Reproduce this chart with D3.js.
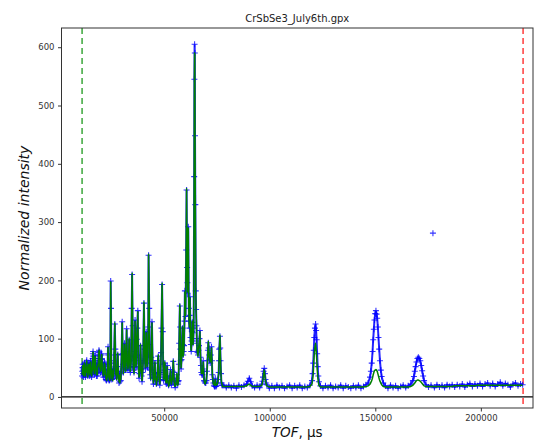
<!DOCTYPE html>
<html>
<head>
<meta charset="utf-8">
<script src="https://cdn.jsdelivr.net/npm/d3@7"></script>
<style>
body { margin: 0; background: #fff; }
svg text { font-family: "DejaVu Sans", sans-serif; }
</style>
</head>
<body>
<div id="chart"></div>
<script>
// One line of tof matches the same line of obs and calc.
var tof = [
	11100,11200,11300,11400,11500,11600,11700,11800,11900,12000,12100,12200,12300,12400,12500,12600,12700,12800,12900,13000,
	13100,13200,13300,13400,13500,13600,13700,13800,13900,14000,14100,14200,14300,14400,14500,14600,14700,14800,14900,15000,
	15100,15200,15300,15400,15500,15600,15700,15800,15900,16000,16100,16200,16300,16400,16500,16600,16700,16800,16900,17000,
	17100,17200,17300,17400,17500,17600,17700,17800,17900,18000,18100,18200,18300,18400,18500,18600,18700,18800,18900,19000,
	19100,19200,19300,19400,19500,19600,19700,19800,19900,20000,20100,20200,20300,20400,20500,20600,20700,20800,20900,21000,
	21100,21200,21300,21400,21500,21600,21700,21800,21900,22000,22100,22200,22300,22400,22500,22600,22700,22800,22900,23000,
	23100,23200,23300,23400,23500,23600,23700,23800,23900,24000,
	24300,24500,24650,24800,24950,25050,25200,25400,25600,25800,26000,26150,26300,26600,26850,27100,27300,27500,27650,27800,
	28000,28250,28400,28600,28800,29000,29200,29400,29600,29800,30100,30350,30550,30700,30850,31000,31200,31450,31650,31800,
	32000,32200,32450,32650,32800,32950,33100,33400,33650,33800,33950,
	34100,34300,34600,34800,35050,35200,35350,35500,35700,35850,36000,36200,36450,36650,36800,37000,37250,37500,37750,37900,
	38100,38300,38500,38650,38800,39100,39300,39500,39750,40000,40400,40700,40900,41100,41300,41500,41850,42050,42250,42450,
	42600,42900,43050,43250,43400,43600,43750,43900,44200,44500,44700,44900,45100,45300,45450,45600,45750,45900,46100,46300,
	46500,46700,46850,47000,47200,47500,47700,47900,
	48100,48300,48500,48700,49000,49300,49500,49700,49850,50000,50150,50300,50600,50800,51000,51200,51400,51550,51700,51900,
	52100,52350,52600,52800,53000,53200,53400,53650,53900,54100,54300,54500,54700,54950,55200,55400,55600,55800,56000,56200,
	56400,56600,56800,56950,57100,57400,57550,57700,57850,58000,58200,58400,58700,58850,59000,59200,59400,59600,59800,60100,
	60400,60600,60850,61000,61150,61400,61650,61800,61950,62050,62200,62450,62650,62800,62950,63100,63350,63500,63650,63800,
	63950,64200,64300,64400,64500,64600,64750,64950,65100,65300,65450,65600,65800,66000,66250,66500,66700,66900,67200,67400,
	67600,67850,68100,68300,68500,68700,68900,69150,69400,69700,70000,70250,70500,70700,70900,71100,71300,71550,71800,72100,
	72400,72600,72800,73050,73300,73550,73800,74000,74200,74400,74600,74900,75200,75500,75800,75950,76100,76400,76550,76700,
	76900,77100,77350,77600,
	78200,79400,80600,81800,83000,84200,85400,86600,87800,89000,89600,90300,91000,91700,92800,94000,95200,
	96200,96500,96800,97100,97400,97700,98000,98300,98600,
	99800,101000,102200,103400,104600,105800,107000,108200,109400,110600,111800,113000,114200,115400,116600,117800,119000,
	120000,120300,120600,120850,121100,121400,121700,121950,122200,122450,122700,123000,123300,
	124000,125200,126400,127600,128800,130000,131200,132400,133600,134800,136000,137200,138400,139600,140800,142000,143200,
	144400,145600,146600,
	147500,147900,148300,148700,149000,149300,149600,149950,150300,150600,150900,151200,151500,151850,152200,152600,153000,
	153800,154800,156000,157200,158400,159600,160800,162000,163200,164400,165600,166800,
	167800,168300,168700,169100,169500,169950,170400,170850,171300,171750,172200,172650,173100,
	174000,175200,176400,177300,178000,179200,180400,181600,182800,184000,185200,186400,187600,188800,190000,191200,192400,
	193600,194800,196000,197200,198400,199600,200800,202000,203200,204400,205600,206800,208000,209200,210400,211600,212800,
	214000,215200,216400,217600,218800,219800
];

var obs = [
	36,44,50,56,50,40,46,34,40,52,56,48,58,44,52,38,34,44,48,40,
	52,60,63,54,46,50,40,36,44,50,42,54,58,48,52,40,36,46,52,58,
	62,50,44,38,46,34,40,48,42,56,66,74,78,70,60,52,44,50,38,46,
	56,66,72,66,58,48,54,42,36,44,40,48,36,44,52,58,50,62,72,76,
	80,78,70,62,56,46,52,42,50,58,52,64,72,74,66,58,50,42,48,38,
	44,34,40,48,54,56,60,52,58,46,40,48,36,30,36,28,34,30,38,32,
	42,56,74,86,72,56,46,36,30,28,
	30,62,199,152,58,40,30,44,31,48,34,46,72,125,82,36,48,32,40,52,
	73,44,36,24,38,26,40,28,44,72,129,74,56,42,48,58,92,50,62,46,
	78,117,72,56,46,54,64,98,62,50,42,
	52,62,152,210,122,70,46,52,42,56,78,132,68,50,62,99,118,148,72,48,
	32,40,52,58,88,48,36,26,42,62,161,82,62,48,70,112,58,50,72,120,
	243,152,90,48,38,32,46,68,129,62,38,22,34,32,42,58,40,28,34,22,
	30,26,40,62,70,42,30,20,
	30,42,76,118,193,112,56,28,34,38,46,58,32,28,22,34,54,36,24,22,
	20,24,28,36,47,32,20,26,32,44,61,42,28,22,16,22,26,32,38,28,
	22,26,28,56,92,156,120,82,62,48,64,82,118,90,72,78,88,130,182,138,
	252,355,222,196,178,292,152,130,118,140,172,102,90,78,96,112,128,110,92,100,
	118,378,545,605,590,448,330,182,150,122,96,78,76,72,80,88,100,114,68,54,
	42,38,38,48,62,44,28,26,24,24,28,44,62,80,93,84,72,64,58,72,
	86,62,38,30,24,20,18,24,32,24,18,20,24,30,42,62,82,104,84,62,
	40,24,20,20,
	20,16,20,16,19,15,20,17,20,22,27,32,26,19,16,20,16,
	22,27,34,44,49,40,30,24,21,
	15,19,15,20,16,19,15,18,20,15,19,16,20,15,18,16,20,
	28,40,58,80,102,118,125,114,98,74,52,36,26,
	19,15,19,16,20,15,18,16,20,15,19,17,15,19,16,20,15,
	18,21,24,
	34,44,58,78,98,116,132,143,148,142,135,120,102,82,62,46,35,
	24,19,15,20,16,19,15,18,20,16,19,22,
	28,35,44,52,60,66,68,66,62,54,45,36,28,
	21,17,20,281,16,21,17,20,16,21,18,21,17,21,18,22,17,
	21,23,18,22,19,23,18,22,24,19,23,18,22,25,19,23,21,
	17,22,24,19,22,21
];

var calc = [
	38,42,48,54,52,42,44,36,38,50,58,46,56,46,50,40,36,42,50,42,
	50,58,62,56,48,48,42,34,42,48,44,52,56,50,50,42,38,44,50,56,
	60,52,42,40,44,36,38,46,44,54,64,72,77,72,62,50,46,48,40,44,
	54,64,70,68,56,50,52,44,38,42,38,46,38,42,50,56,52,60,70,74,
	78,80,68,64,54,48,50,44,48,56,54,62,70,73,64,60,48,44,46,40,
	42,36,38,46,52,55,58,54,56,48,38,46,38,32,34,30,32,28,36,34,
	40,54,72,85,74,54,48,34,32,30,
	28,60,197,150,60,42,32,42,28,46,36,48,70,127,80,38,46,30,42,50,
	75,46,34,26,36,24,38,30,46,70,127,76,54,40,50,60,90,52,60,44,
	80,115,70,58,48,52,62,100,60,52,44,
	50,60,150,212,120,68,48,54,40,58,80,130,70,52,60,101,120,146,70,46,
	34,42,50,56,90,46,38,28,40,60,163,80,60,50,72,110,60,52,70,118,
	245,150,92,50,40,30,48,70,127,60,36,24,32,30,44,60,42,30,32,20,
	32,28,42,60,72,40,28,22,
	32,40,74,120,195,110,58,30,32,36,48,60,30,26,24,36,52,38,26,24,
	18,22,30,38,45,30,22,28,30,42,63,44,26,20,18,20,24,30,40,30,
	20,24,30,58,90,158,118,80,64,50,62,80,120,92,70,76,90,128,180,140,
	250,357,220,198,180,290,150,132,120,142,170,100,88,80,94,110,130,108,90,102,
	120,380,549,590,585,445,329,180,148,120,98,80,74,70,82,90,98,112,70,56,
	40,40,40,46,60,42,30,24,22,26,30,42,60,78,95,82,70,66,60,70,
	84,60,40,28,22,22,20,26,30,22,20,22,22,28,40,60,80,106,82,60,
	38,26,22,18,
	18,18,18,18,18,18,18,18,18,19,21,22,20,18,18,18,18,
	20,24,30,40,46,37,28,22,19,
	17,17,17,17,17,17,17,17,17,17,17,17,17,17,17,17,18,
	22,30,40,58,75,86,92,82,68,50,36,26,20,
	17,17,17,17,17,17,17,17,17,17,17,17,17,17,17,17,17,
	17,18,19,
	22,25,28,33,38,42,45,46,47,46,44,40,36,31,27,24,21,
	18,17,17,17,17,17,17,17,17,17,17,18,
	20,22,24,26,28,29,29,28,27,25,23,21,19,
	18,18,18,18,18,18,18,18,18,18,18,18,19,19,19,19,19,
	19,19,19,19,20,20,20,20,20,20,20,20,20,20,20,20,20,
	20,20,20,20,20,20
];

var xTicks = [50000, 100000, 150000, 200000];
var yTicks = [0, 100, 200, 300, 400, 500, 600];
var limits = [11100, 220000];

var width = 534, height = 440;
var plot = {left: 61.5, right: 533, top: 28, bottom: 408};

var svg = d3.select("#chart").append("svg")
	.attr("width", width)
	.attr("height", height);

var x = d3.scaleLinear().domain([1350, 224700]).range([plot.left, plot.right]);
var y = d3.scaleLinear().domain([-19, 633]).range([plot.bottom, plot.top]);

svg.append("clipPath").attr("id", "clip")
	.append("rect")
	.attr("x", plot.left).attr("y", plot.top)
	.attr("width", plot.right - plot.left).attr("height", plot.bottom - plot.top);

var g = svg.append("g").attr("clip-path", "url(#clip)");

var pts = tof.map(function(t, i) { return {t: t, o: obs[i], c: calc[i]}; });
pts.sort(function(a, b) { return a.t - b.t; });

// excluded region markers
g.append("line")
	.attr("x1", x(limits[0])).attr("x2", x(limits[0]))
	.attr("y1", plot.top).attr("y2", plot.bottom)
	.attr("stroke", "#3aa63a").attr("stroke-width", 1.5)
	.attr("stroke-dasharray", "6,4");
g.append("line")
	.attr("x1", x(limits[1])).attr("x2", x(limits[1]))
	.attr("y1", plot.top).attr("y2", plot.bottom)
	.attr("stroke", "#ff3b3b").attr("stroke-width", 1.5)
	.attr("stroke-dasharray", "6,4");

// zero line
g.append("line")
	.attr("x1", plot.left).attr("x2", plot.right)
	.attr("y1", y(0)).attr("y2", y(0))
	.attr("stroke", "#000").attr("stroke-width", 1.3);

// observed: trace plus "+" markers (the lone spike is left as a marker only)
var obsPts = pts.filter(function(d) { return !(d.t > 100000 && d.o > 250); });
g.append("path")
	.datum(obsPts)
	.attr("fill", "none")
	.attr("stroke", "#0000ff")
	.attr("stroke-opacity", 0.85)
	.attr("stroke-width", 2)
	.attr("d", d3.line().x(function(d) { return x(d.t); }).y(function(d) { return y(d.o); }));

g.selectAll(".obs")
	.data(pts)
	.enter().append("path")
	.attr("class", "obs")
	.attr("transform", function(d) { return "translate(" + x(d.t) + "," + y(d.o) + ")"; })
	.attr("d", "M-3,0H3M0,-3V3")
	.attr("stroke", "#0000ff")
	.attr("stroke-opacity", 0.8)
	.attr("stroke-width", 1.1);

// calculated
g.append("path")
	.datum(pts)
	.attr("fill", "none")
	.attr("stroke", "#008000")
	.attr("stroke-width", 1.5)
	.attr("stroke-linejoin", "round")
	.attr("d", d3.line().x(function(d) { return x(d.t); }).y(function(d) { return y(d.c); }));

// frame
svg.append("rect")
	.attr("x", plot.left).attr("y", plot.top)
	.attr("width", plot.right - plot.left).attr("height", plot.bottom - plot.top)
	.attr("fill", "none").attr("stroke", "#333").attr("stroke-width", 1);

var xAxis = svg.append("g")
	.attr("transform", "translate(0," + plot.bottom + ")")
	.call(d3.axisBottom(x).tickValues(xTicks).tickSize(3.5).tickPadding(3.5).tickFormat(d3.format("d")));
var yAxis = svg.append("g")
	.attr("transform", "translate(" + plot.left + ",0)")
	.call(d3.axisLeft(y).tickValues(yTicks).tickSize(3.5).tickPadding(3.5));

[xAxis, yAxis].forEach(function(a) {
	a.select(".domain").remove();
	a.selectAll(".tick line").attr("stroke", "#333");
	a.selectAll(".tick text")
		.attr("fill", "#333")
		.style("font-size", "8.5px")
		.style("font-family", "DejaVu Sans, sans-serif");
});

svg.append("text")
	.attr("x", (plot.left + plot.right) / 2).attr("y", 22)
	.attr("text-anchor", "middle")
	.attr("fill", "#222")
	.style("font-size", "10px")
	.text("CrSbSe3_July6th.gpx");

svg.append("text")
	.attr("transform", "translate(29," + ((plot.top + plot.bottom) / 2) + ") rotate(-90)")
	.attr("text-anchor", "middle")
	.attr("fill", "#111")
	.style("font-size", "14px")
	.style("font-style", "italic")
	.text("Normalized intensity");

var xl = svg.append("text")
	.attr("x", (plot.left + plot.right) / 2).attr("y", 437)
	.attr("text-anchor", "middle")
	.attr("fill", "#111")
	.style("font-size", "13.5px");
xl.append("tspan").style("font-style", "italic").text("TOF");
xl.append("tspan").text(", µs");
</script>
</body>
</html>
